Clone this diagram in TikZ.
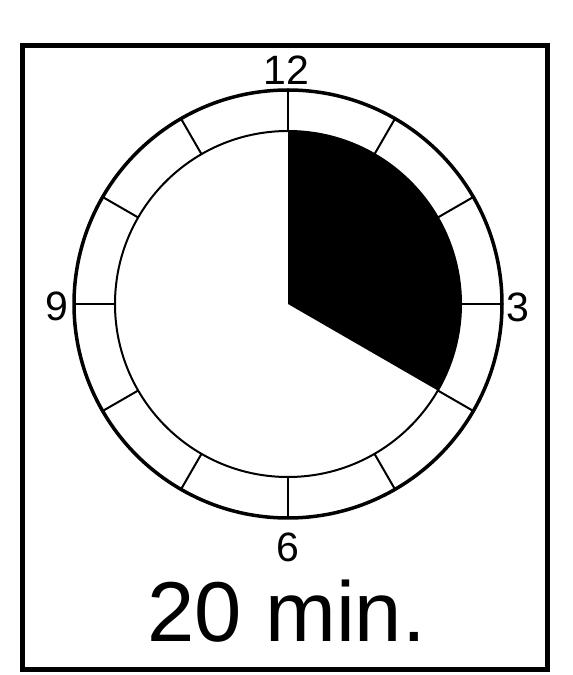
\documentclass[tikz,border=0pt]{standalone}
\usepackage{fontspec}
\setmainfont{Liberation Sans}
\usetikzlibrary{calc}
\begin{document}
\begin{tikzpicture}[x=1pt,y=1pt,
  numlabel/.style={inner sep=0pt,font=\fontsize{41}{41}\selectfont},
  biglabel/.style={inner sep=0pt,anchor=base,font=\fontsize{85}{85}\selectfont},
  tickline/.style={line width=2pt},
]
\useasboundingbox (0,0) rectangle (573,675);
\fill[white] (0,0) rectangle (573,675);
\coordinate (c) at (288,371);
% frame
\draw[line width=5pt] (22.5,5) rectangle (547,629.5);
% sector
\fill[black] (c) -- ++(90:173) arc[start angle=90,end angle=-30,radius=173] -- cycle;
% circles
\draw[line width=3.5pt] (c) circle[radius=214];
\draw[line width=2pt] (c) circle[radius=173];
% ticks
\foreach \a in {0,30,...,330}{
  \draw[tickline] ($(c)+(\a:173)$) -- ($(c)+(\a:214)$);
}
% labels
\node[numlabel,anchor=base] (l12) at (286.5,590) {12};
\node[numlabel] (l3) at (517.5,368) {3};
\node[numlabel] (l9) at (56.5,369) {9};
\node[numlabel] (l6) at (288,128) {6};
\node[biglabel] (mins) at (286.5,34) {20 min.};
\end{tikzpicture}
\end{document}
